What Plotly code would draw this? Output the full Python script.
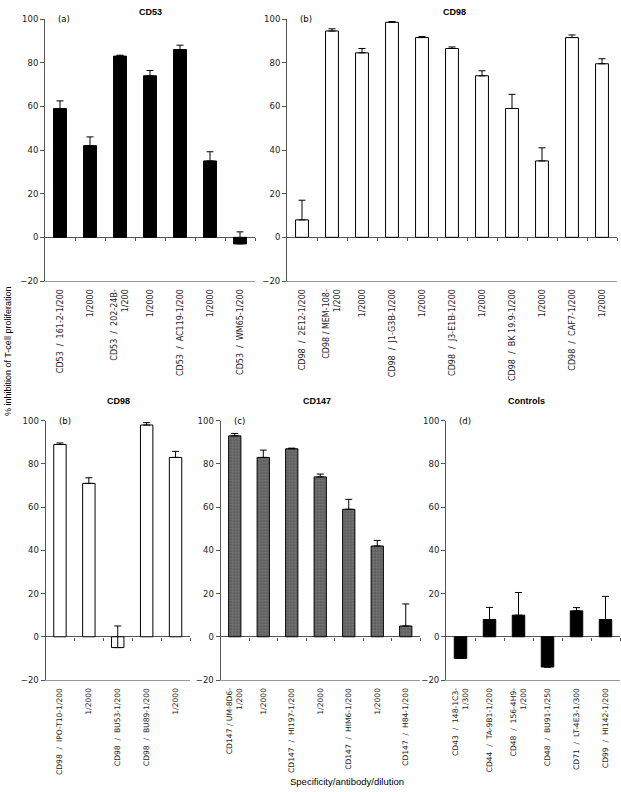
import plotly.graph_objects as go

W, H = 621, 792

# ---------------- data ----------------
cd53_labels = ["CD53\u00a0\u00a0/\u00a0\u00a0161-2-1/200", "1/2000", "CD53\u00a0\u00a0/\u00a0\u00a0202-24B-<br>1/200", "1/2000",
               "CD53\u00a0\u00a0/\u00a0\u00a0AC119-1/200", "1/2000", "CD53\u00a0\u00a0/\u00a0\u00a0WM65-1/200"]
cd53_values = [59, 42, 83, 74, 86, 35, -3]
cd53_errors = [3.5, 4, 0.4, 2.4, 2, 4.2, 5.5]

cd98_top_labels = ["CD98\u00a0\u00a0/\u00a0\u00a02E12-1/200", "CD98 / MEM-108-<br>1/200", "1/2000",
                   "CD98\u00a0\u00a0/\u00a0\u00a0J1-G3B-1/200", "1/2000", "CD98\u00a0\u00a0/\u00a0\u00a0J3-E1B-1/200", "1/2000",
                   "CD98\u00a0\u00a0/\u00a0\u00a0BK 19.9-1/200", "1/2000", "CD98\u00a0\u00a0/\u00a0\u00a0CAF7-1/200", "1/2000"]
cd98_top_values = [8, 94.5, 84.5, 98.5, 91.5, 86.5, 74, 59, 35, 91.5, 79.5]
cd98_top_errors = [9, 1, 2, 0.3, 0.5, 0.7, 2.3, 6.5, 6, 1.2, 2.3]

cd98_bot_labels = ["CD98\u00a0\u00a0/\u00a0\u00a0IPO-T10-1/200", "1/2000", "CD98\u00a0\u00a0/\u00a0\u00a0BU53-1/200",
                   "CD98\u00a0\u00a0/\u00a0\u00a0BU89-1/200", "1/2000"]
cd98_bot_values = [89, 71, -5, 98, 83]
cd98_bot_errors = [0.7, 2.6, 10, 1.1, 2.8]

cd147_labels = ["CD147 / UM-8D6-<br>1/200", "1/2000", "CD147\u00a0\u00a0/\u00a0\u00a0HI197-1/200", "1/2000",
                "CD147\u00a0\u00a0/\u00a0\u00a0HIM6-1/200", "1/2000", "CD147\u00a0\u00a0/\u00a0\u00a0H84-1/200"]
cd147_values = [93, 83, 87, 74, 59, 42, 5]
cd147_errors = [1.1, 3.4, 0.3, 1.3, 4.6, 2.6, 10.2]

ctrl_labels = ["CD43\u00a0\u00a0/\u00a0\u00a0148-1C3-<br>1/300", "CD44\u00a0\u00a0/\u00a0\u00a0TA-9B1-1/200",
               "CD48\u00a0\u00a0/\u00a0\u00a0156-4H9-<br>1/200", "CD48\u00a0\u00a0/\u00a0\u00a0BU91-1/250",
               "CD71\u00a0\u00a0/\u00a0\u00a0LT-4E3-1/300", "CD99\u00a0\u00a0/\u00a0\u00a0HI142-1/200"]
ctrl_values = [-10, 8, 10, -14, 12, 8]
ctrl_errors = [0, 5.6, 10.5, 0, 1.5, 10.7]

panel_titles = ["CD53", "CD98", "CD98", "CD147", "Controls"]
panel_letters = ["(a)", "(b)", "(b)", "(c)", "(d)"]
y_ticks = [-20, 0, 20, 40, 60, 80, 100]

# ---------------- layout helpers ----------------
def px(x):
    return x / W

def py(y):
    return 1 - y / H

top_y = (281, 19)      # pixel rows of -20 and 100
bot_y = (680, 420.7)

panels = [
    dict(labels=cd53_labels, values=cd53_values, errors=cd53_errors, x=(45, 255), y=top_y,
         fill="#000000", title_x=150, title_y=12, fs=8),
    dict(labels=cd98_top_labels, values=cd98_top_values, errors=cd98_top_errors, x=(287, 617), y=top_y,
         fill="#ffffff", title_x=454, title_y=12, fs=8),
    dict(labels=cd98_bot_labels, values=cd98_bot_values, errors=cd98_bot_errors, x=(45.5, 190), y=bot_y,
         fill="#ffffff", title_x=118, title_y=401, fs=7.6),
    dict(labels=cd147_labels, values=cd147_values, errors=cd147_errors, x=(220.5, 420), y=bot_y,
         fill="pattern", title_x=317, title_y=401, fs=7.6),
    dict(labels=ctrl_labels, values=ctrl_values, errors=ctrl_errors, x=(446, 620), y=bot_y,
         fill="#000000", title_x=526, title_y=401, fs=7.6),
]

fig = go.Figure()
annotations = []
layout = {}
NP = len(panels)

for i, p in enumerate(panels):
    k = i + 1
    n = len(p["values"])
    xs = list(range(n))
    xname = "x" if k == 1 else f"x{k}"
    yname = "y" if k == 1 else f"y{k}"
    marker = dict(color=p["fill"], line=dict(color="#000000", width=1))
    if p["fill"] == "pattern":
        marker = dict(color="#6a6a6a", line=dict(color="#000000", width=1),
                      pattern=dict(shape=".", fgcolor="#2a2a2a", bgcolor="#7a7a7a", size=3, solidity=0.45))
    fig.add_trace(go.Bar(
        x=xs, y=p["values"], width=0.43, marker=marker, xaxis=xname, yaxis=yname,
        error_y=dict(type="data", symmetric=False, array=p["errors"], arrayminus=[0] * n,
                     color="#000000", thickness=1, width=3.5),
        showlegend=False, hoverinfo="skip"))

    xd = [px(p["x"][0]), px(p["x"][1])]
    yd = [py(p["y"][0]), py(p["y"][1])]
    layout[f"xaxis{k}"] = dict(
        domain=xd, anchor=yname, range=[-0.5, n - 0.5], tickmode="array", tickvals=xs,
        ticktext=p["labels"], tickangle=-90, ticks="", showline=True, linecolor="#9a9a9a",
        linewidth=1, showgrid=False, zeroline=False,
        tickfont=dict(family="DejaVu Sans", size=p["fs"], color="#222222"), automargin=False,
        ticklabelstandoff=4)
    layout[f"yaxis{k}"] = dict(
        domain=yd, anchor=xname, range=[-20, 100], tickmode="array", tickvals=y_ticks,
        ticks="outside", ticklen=4, tickcolor="#555555", showline=True, linecolor="#555555",
        linewidth=1, showgrid=False, zeroline=True, zerolinecolor="#555555", zerolinewidth=1,
        tickfont=dict(family="DejaVu Sans", size=8.5, color="#222222"), automargin=False)

    # overlay axis carrying the category-boundary ticks on the zero line
    ko = NP + k
    zero_pos = yd[0] + (0 - (-20)) / 120 * (yd[1] - yd[0])
    layout[f"xaxis{ko}"] = dict(
        overlaying=xname, anchor="free", position=zero_pos, range=[-0.5, n - 0.5],
        tickmode="array", tickvals=[j + 0.5 for j in range(n)], ticks="outside", ticklen=3,
        tickcolor="#555555", showticklabels=False, showline=False, showgrid=False,
        zeroline=False, automargin=False)
    fig.add_trace(go.Scatter(x=[0], y=[0], xaxis=f"x{ko}", yaxis=yname, mode="markers",
                             marker=dict(opacity=0), showlegend=False, hoverinfo="skip"))

    annotations.append(dict(text=f"<b>{panel_titles[i]}</b>", x=px(p["title_x"]), y=py(p["title_y"]),
                            xref="paper", yref="paper", showarrow=False, xanchor="center", yanchor="middle",
                            font=dict(family="Liberation Sans, Arial", size=9, color="#000000")))
    annotations.append(dict(text=panel_letters[i], x=px(p["x"][0] + 11), y=yd[1],
                            xref="paper", yref="paper", showarrow=False, xanchor="left", yanchor="middle",
                            font=dict(family="DejaVu Sans", size=8.5, color="#000000")))

annotations.append(dict(text="% inhibition of T-cell proliferation", x=px(8), y=py(352),
                        xref="paper", yref="paper", showarrow=False, textangle=-90,
                        xanchor="center", yanchor="middle",
                        font=dict(family="Liberation Sans, Arial", size=9, color="#000000")))
annotations.append(dict(text="Specificity/antibody/dilution", x=px(347), y=py(781),
                        xref="paper", yref="paper", showarrow=False, xanchor="center", yanchor="middle",
                        font=dict(family="Liberation Sans, Arial", size=9.5, color="#000000")))

fig.update_layout(
    width=W, height=H, margin=dict(l=0, r=0, t=0, b=0),
    paper_bgcolor="#ffffff", plot_bgcolor="#ffffff", bargap=0.57,
    annotations=annotations, **layout)

fig.write_html("out.html", config={"displayModeBar": False},
               post_script="document.body.style.margin='0px';document.body.style.overflow='hidden';")
